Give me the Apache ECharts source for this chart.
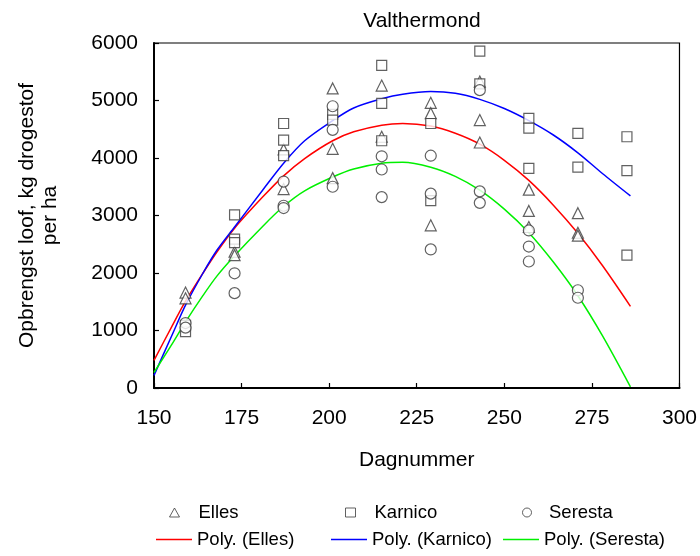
<!DOCTYPE html>
<html>
<head>
<meta charset="utf-8">
<script src="https://cdn.jsdelivr.net/npm/echarts@6/dist/echarts.min.js"></script>
<style>html,body{margin:0;padding:0;background:#fff}#c{width:700px;height:556px}</style>
</head>
<body>
<div id="c"></div>
<script>
// Scatter observations [dagnummer, opbrengst]
var elles = [[159,1660],[159,1560],[173,2370],[173,2310],[187,4150],[187,3460],[201,5210],[201,4160],[201,3650],[215,5260],[215,4370],[229,4960],[229,4780],[229,2830],[243,5330],[243,4660],[243,4270],[257,3450],[257,3080],[257,2800],[271,3040],[271,2700],[271,2650]];
var karnico = [[159,1090],[159,980],[173,3010],[173,2590],[173,2530],[187,4600],[187,4310],[187,4040],[201,4760],[201,4660],[215,5610],[215,4950],[215,4300],[229,4600],[229,3260],[243,5860],[243,5290],[257,4690],[257,4520],[257,3820],[271,4430],[271,3840],[285,4370],[285,3780],[285,2310]];
var seresta = [[159,1130],[159,1050],[173,1995],[173,1650],[187,3590],[187,3170],[187,3130],[201,4900],[201,4490],[201,3500],[215,4030],[215,3800],[215,3320],[229,4040],[229,3380],[229,2410],[243,5180],[243,3420],[243,3220],[257,2740],[257,2460],[257,2200],[271,1700],[271,1570]];

// Trend lines
var curveX = [150,155,159,164,168,173,181,187,193,201,207,215,221,229,236,243,250,257,264,271,278,286];
var polyElles   = [480,1060,1510,2000,2370,2780,3320,3690,3990,4300,4455,4570,4600,4555,4430,4240,3960,3610,3180,2690,2130,1420];
var polyKarnico = [220,900,1440,2000,2400,2800,3440,3910,4300,4650,4870,5030,5110,5155,5125,5020,4860,4650,4400,4090,3730,3340];
var polySeresta = [270,750,1150,1610,1950,2300,2810,3160,3430,3670,3810,3910,3925,3840,3680,3440,3110,2700,2190,1605,910,20];

var FONT = "'Liberation Sans', Arial, sans-serif";
function pairs(xs, ys){ return xs.map(function(x,i){ return [x, ys[i]]; }); }

var chart = echarts.init(document.getElementById('c'), null, {renderer:'canvas'});
var markStyle = {color:'#ffffff', borderColor:'#3a3a3a', borderWidth:1.2};
function scatter(name, data, sym){
  return {name:name, type:'scatter', data:data, symbol:sym, symbolSize: sym==='rect'?10:11,
    itemStyle: markStyle, z:3, animation:false};
}
function line(name, data, color){
  return {name:name, type:'line', data:data, symbol:'none', showSymbol:false, smooth:0.3,
    lineStyle:{color:color, width:1.5}, itemStyle:{color:color}, z:2, animation:false};
}
function leg(name, left, top, isLine, textPad){
  var o = {data:[name], left:left, top:top, orient:'horizontal', padding:0,
    textStyle:{fontFamily:FONT, fontSize:18.5, color:'#000', padding:[0,0,0,textPad||0]}};
  if(isLine){ o.icon='rect'; o.itemWidth=36; o.itemHeight=1.6; }
  else { o.itemWidth=10; o.itemHeight=9; o.itemStyle={color:'#fff', borderColor:'#3a3a3a', borderWidth:1}; }
  return o;
}
var option = {
  backgroundColor:'#fff',
  animation:false,
  title:{text:'Valthermond', left:417, top:6, textAlign:'center',
    textStyle:{fontFamily:FONT, fontSize:21, fontWeight:'normal', color:'#000'}},
  grid:{left:154, right:20, top:43, bottom:168, show:true, borderColor:'#000', borderWidth:1.2, containLabel:false},
  xAxis:{type:'value', min:150, max:300, interval:25,
    name:'Dagnummer', nameLocation:'middle', nameGap:62,
    nameTextStyle:{fontFamily:FONT, fontSize:21, color:'#000'},
    axisLine:{show:true, onZero:false, lineStyle:{color:'#000', width:2}},
    axisTick:{show:true, inside:true, length:5, lineStyle:{color:'#000', width:1.2}},
    axisLabel:{fontFamily:FONT, fontSize:21, color:'#000', margin:20},
    splitLine:{show:false}},
  yAxis:{type:'value', min:0, max:6000, interval:1000,
    name:'Opbrengst loof, kg drogestof\nper ha', nameLocation:'middle', nameGap:92,
    nameTextStyle:{fontFamily:FONT, fontSize:21, color:'#000', lineHeight:23, align:'center'},
    axisLine:{show:true, onZero:false, lineStyle:{color:'#000', width:2}},
    axisTick:{show:true, inside:true, length:5, lineStyle:{color:'#000', width:1.2}},
    axisLabel:{fontFamily:FONT, fontSize:21, color:'#000', margin:16, formatter:function(v){ return String(v); }},
    splitLine:{show:false}},
  legend:[
    leg('Elles', 169, 503, false, 14),
    leg('Karnico', 345, 503, false, 14),
    leg('Seresta', 522, 503, false, 12),
    leg('Poly. (Elles)', 156, 530, true, 0),
    leg('Poly. (Karnico)', 331, 530, true, 0),
    leg('Poly. (Seresta)', 503, 530, true, 0)
  ],
  series:[
    line('Poly. (Elles)', pairs(curveX, polyElles), '#ff0000'),
    line('Poly. (Karnico)', pairs(curveX, polyKarnico), '#0000ff'),
    line('Poly. (Seresta)', pairs(curveX, polySeresta), '#00f000'),
    scatter('Elles', elles, 'triangle'),
    scatter('Karnico', karnico, 'rect'),
    scatter('Seresta', seresta, 'circle')
  ]
};
chart.setOption(option);
</script>
</body>
</html>
